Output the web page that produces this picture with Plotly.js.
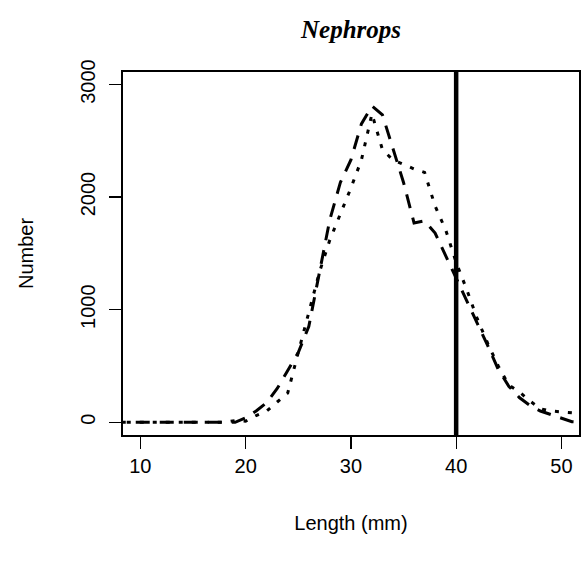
<!DOCTYPE html>
<html>
<head>
<meta charset="utf-8">
<script src="https://cdn.plot.ly/plotly-3.0.1.min.js"></script>
<style>
html,body{margin:0;padding:0;background:#fff;}
#chart{width:582px;height:570px;}
</style>
</head>
<body>
<div id="chart"></div>
<script>
// Length classes (mm)
var lengths = [5,6,7,8,9,10,11,12,13,14,15,16,17,18,19,20,21,22,23,24,25,26,27,28,29,30,31,32,33,34,35,36,37,38,39,40,41,42,43,44,45,46,47,48,49,50,51,52,53,54,55];
// Series 1 (long dashed)
var numberDashed = [0,0,0,0,0,0,0,0,0,0,0,0,0,0,0,40,100,175,300,460,620,850,1330,1800,2130,2330,2650,2810,2730,2430,2130,1770,1790,1680,1480,1290,1090,880,680,470,320,220,150,100,70,35,5,0,0,0,0];
// Series 2 (dotted)
var numberDotted = [0,0,0,0,0,0,0,0,0,0,0,0,0,0,15,10,60,100,180,260,620,980,1330,1620,1850,2080,2330,2740,2420,2330,2290,2250,2220,1920,1710,1420,1180,920,700,500,330,270,190,120,100,95,85,75,60,40,20];
// Reference length (vertical line)
var refLength = 40;
var xTicks = [10,20,30,40,50];
var yTicks = [0,1000,2000,3000];

var traces = [
  {x: lengths, y: numberDashed, type: 'scatter', mode: 'lines',
   line: {color: '#000', width: 3, dash: '14px,10px'}, hoverinfo: 'skip'},
  {x: lengths, y: numberDotted, type: 'scatter', mode: 'lines',
   line: {color: '#000', width: 3, dash: '4px,9px'}, hoverinfo: 'skip'}
];

var sans = 'Liberation Sans, Arial, sans-serif';
var layout = {
  width: 582, height: 570,
  margin: {l: 123, r: 3, t: 72, b: 135},
  paper_bgcolor: '#fff', plot_bgcolor: '#fff',
  showlegend: false,
  title: {text: '<b><i>Nephrops</i></b>', x: 0.5, xref: 'paper', y: 1, yref: 'container', yanchor: 'top', pad: {t: 20},
          font: {family: 'Liberation Serif, Times New Roman, serif', size: 25, color: '#000'}},
  xaxis: {
    range: [8.35, 51.67], tickvals: xTicks, ticktext: xTicks.map(String),
    ticks: 'outside', ticklen: 12, tickwidth: 1.3, tickcolor: '#000',
    showline: true, mirror: true, linecolor: '#000', linewidth: 2,
    showgrid: false, zeroline: false, ticklabelstandoff: 0,
    tickfont: {family: sans, size: 20, color: '#000'},
    title: {text: 'Length (mm)', standoff: 40, font: {family: sans, size: 20, color: '#000'}}
  },
  yaxis: {
    range: [-113, 3111], tickvals: yTicks, ticktext: yTicks.map(String),
    ticks: 'outside', ticklen: 12, tickwidth: 1.3, tickcolor: '#000', tickangle: -90,
    showline: true, mirror: true, linecolor: '#000', linewidth: 2,
    showgrid: false, zeroline: false, ticklabelstandoff: 6,
    tickfont: {family: sans, size: 20, color: '#000'},
    title: {text: 'Number', standoff: 38, font: {family: sans, size: 20, color: '#000'}}
  },
  shapes: [
    {type: 'line', xref: 'x', yref: 'paper', x0: refLength, x1: refLength, y0: 0, y1: 1,
     line: {color: '#000', width: 4.5}}
  ]
};

Plotly.newPlot('chart', traces, layout, {staticPlot: true, displayModeBar: false});
</script>
</body>
</html>
